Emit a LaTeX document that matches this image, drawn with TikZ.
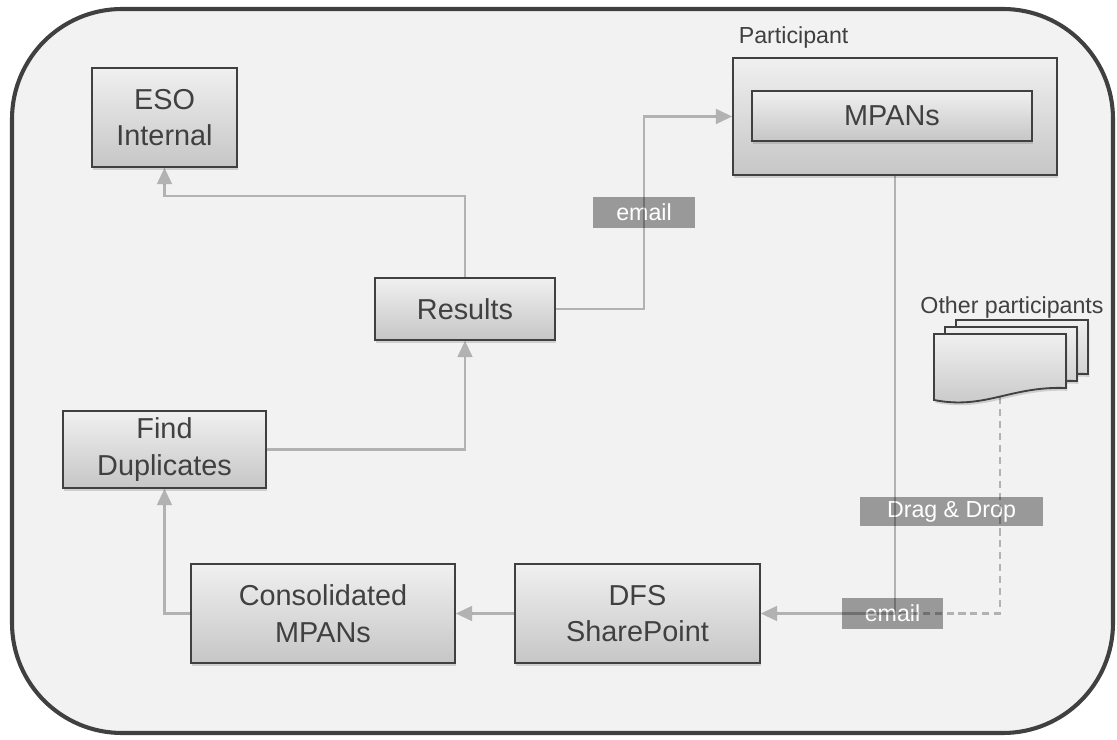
\documentclass[tikz,border=0pt]{standalone}
\usepackage{fontspec}
\setmainfont{Liberation Sans}
\usetikzlibrary{arrows.meta,shadows}
\definecolor{framegray}{HTML}{404040}
\definecolor{paper}{HTML}{F2F2F2}
\definecolor{boxtop}{HTML}{F0F0F0}
\definecolor{boxbot}{HTML}{C6C6C6}
\definecolor{wiregray}{HTML}{BCBCBC}
\definecolor{tagfill}{HTML}{999999}

\begin{document}
\begin{tikzpicture}[x=0.025cm,y=-0.025cm,line width=1.6pt,>={Triangle[length=11.5pt,width=11pt,line width=0pt]},
  box/.style={draw=framegray,line width=1.3pt,top color=boxtop,bottom color=boxbot,text=framegray,
    font=\fontsize{20.5}{26}\selectfont,align=center,inner sep=0pt,
    drop shadow={shadow xshift=1pt,shadow yshift=-2pt,opacity=0.3}},
  doc/.style={draw=framegray,line width=1.3pt,top color=boxtop,bottom color=boxbot,
    drop shadow={shadow xshift=1pt,shadow yshift=-2pt,opacity=0.3}},
  wire/.style={draw=wiregray,line width=1.5pt,blend mode=multiply},
  tag/.style={fill=tagfill,text=white,font=\fontsize{16.5}{20}\selectfont,inner sep=0pt}]
  \useasboundingbox (0,0) rectangle (1117,740);
  % frame
  \draw[draw=framegray,fill=paper,line width=2.9pt,rounded corners=2.75cm] (12,9) rectangle (1113,733);
  % boxes
  \node[box,minimum width=3.625cm,minimum height=2.475cm] (eso) at (164.5,117.5) {ESO\\Internal};
  \node[box,minimum width=8.1cm,minimum height=2.925cm] (part) at (895,116.5) {};
  \node[box,minimum width=7cm,minimum height=1.25cm] (mpans) at (892,116) {MPANs};
  \node[anchor=west,text=framegray,font=\fontsize{16.5}{20}\selectfont] (ptit) at (733,38) {Participant};
  \node[box,minimum width=4.5cm,minimum height=1.55cm] (res) at (465,309) {Results};
  \node[box,minimum width=5.075cm,minimum height=1.925cm] (dup) at (164.5,449.5) {Find\\Duplicates};
  \node[box,minimum width=6.6cm,minimum height=2.475cm] (cons) at (323,613.5) {Consolidated\\MPANs};
  \node[box,minimum width=6.125cm,minimum height=2.475cm] (dfs) at (637.5,613.5) {DFS\\SharePoint};
  % other participants
  \foreach \s in {2,1,0}
    \draw[doc,shift={(11*\s,-7*\s)}] (934,334) -- (1066,334) -- (1066,388)
      .. controls (1010,386) and (985,410) .. (934,400) -- cycle;
  \node[text=framegray,font=\fontsize{16.5}{20}\selectfont] (otit) at (1012,308) {Other participants};
  \coordinate (oth) at (1000,397);
  % tags
  \node[tag,minimum width=2.525cm,minimum height=0.775cm] (mail1) at (644,212.5) {email};
  \node[tag,minimum width=4.575cm,minimum height=0.725cm] (drag) at (951.5,511.5) {Drag \& Drop};
  \node[tag,minimum width=2.525cm,minimum height=0.775cm] (mail2) at (892.5,613.5) {email};
  % connectors
  \coordinate (bend1) at (465,196);
  \coordinate (bend2) at (644,309);
  \draw[wire,->] (res.north) -- (bend1) -| (eso.south);
  \draw[wire,->] (res.east) -- (bend2) |- (part.west);
  \draw[wire,->] (dup.east) -| (res.south);
  \draw[wire,->] (cons.west) -| (dup.south);
  \draw[wire,->] (dfs.west) -- (cons.east);
  \draw[wire,->] (part.south) |- (dfs.east);
  \draw[wire,dash pattern=on 5pt off 3.5pt] (oth) |- (part.south |- dfs.east);
\end{tikzpicture}
\end{document}
